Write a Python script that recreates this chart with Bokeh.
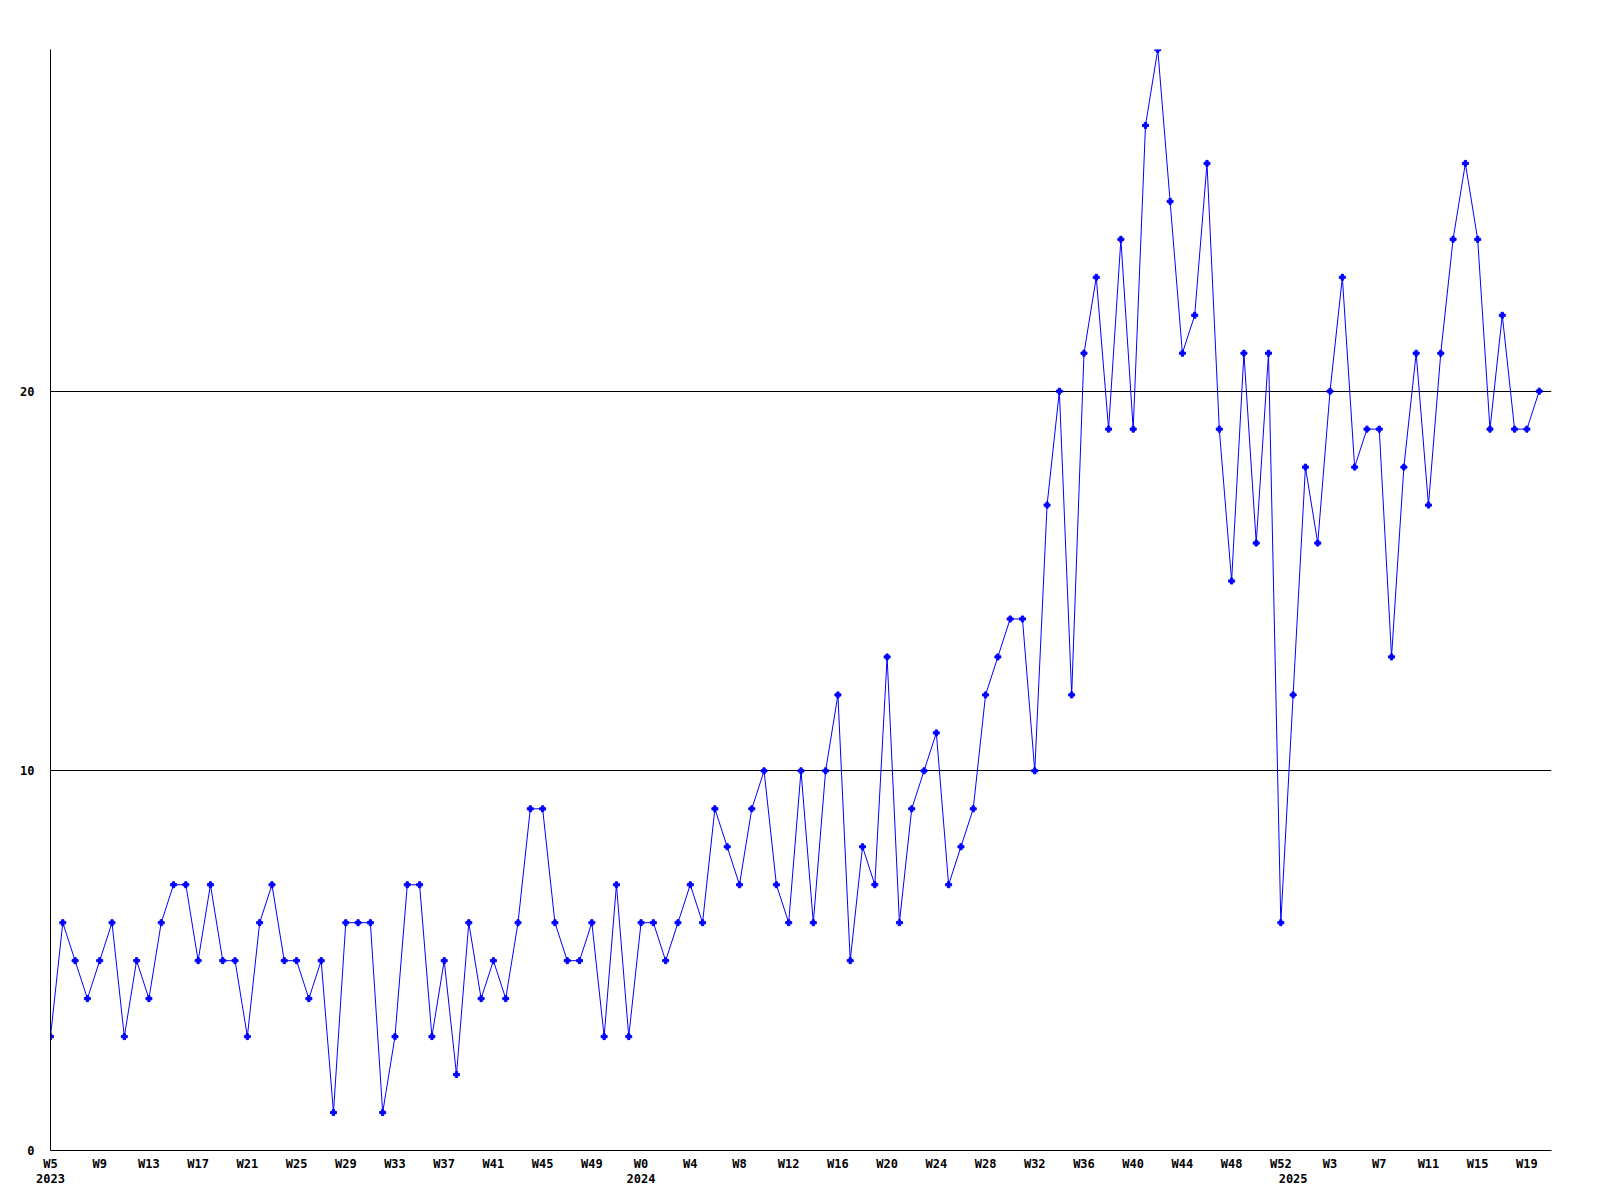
from bokeh.plotting import figure
from bokeh.models import Range1d, FixedTicker, ColumnDataSource, LinearAxis
from bokeh.embed import file_html
from bokeh.resources import INLINE

# --- data -------------------------------------------------------------
weeks_2023 = ["W%d" % w for w in range(5, 53)]
weeks_2024 = ["W%d" % w for w in range(0, 53)]
weeks_2025 = ["W%d" % w for w in range(0, 21)]

values_2023 = [3, 6, 5, 4, 5, 6, 3, 5, 4, 6, 7, 7, 5, 7, 5, 5, 3, 6, 7, 5,
               5, 4, 5, 1, 6, 6, 6, 1, 3, 7, 7, 3, 5, 2, 6, 4, 5, 4, 6, 9,
               9, 6, 5, 5, 6, 3, 7, 3]
values_2024 = [6, 6, 5, 6, 7, 6, 9, 8, 7, 9, 10, 7, 6, 10, 6, 10, 12, 5, 8, 7,
               13, 6, 9, 10, 11, 7, 8, 9, 12, 13, 14, 14, 10, 17, 20, 12, 21, 23, 19, 24,
               19, 27, 29, 25, 21, 22, 26, 19, 15, 21, 16, 21, 6]
values_2025 = [12, 18, 16, 20, 23, 18, 19, 19, 13, 18, 21, 17, 21, 24, 26, 24, 19, 22, 19, 19,
               20]

years = ["2023", "2024", "2025"]
y_ticks = [0, 10, 20]
grid_values = [10, 20]
label_every = 4

# --- assemble ---------------------------------------------------------
weeks = weeks_2023 + weeks_2024 + weeks_2025
values = values_2023 + values_2024 + values_2025
idx = list(range(len(values)))
year_start = [0, len(weeks_2023), len(weeks_2023) + len(weeks_2024)]
tick_idx = idx[::label_every]

FONT = "DejaVu Sans Mono"

p = figure(
    width=1600, height=1200,
    frame_width=1501, frame_height=1101,
    min_border_left=50, min_border_right=49, min_border_top=49, min_border_bottom=50,
    x_range=Range1d(0, len(values)), y_range=Range1d(0, max(values)),
    output_backend="svg", toolbar_location=None,
    background_fill_color="white", border_fill_color="white",
)
p.outline_line_color = None


def style_axis(ax, standoff):
    ax.major_tick_line_color = None
    ax.minor_tick_line_color = None
    ax.major_tick_out = 0
    ax.major_tick_in = 0
    ax.minor_tick_out = 0
    ax.minor_tick_in = 0
    ax.major_label_standoff = standoff
    ax.major_label_text_font = FONT
    ax.major_label_text_font_style = "bold"
    ax.major_label_text_font_size = "12px"
    ax.major_label_text_color = "black"


# week axis
xa = p.xaxis[0]
xa.ticker = FixedTicker(ticks=tick_idx)
xa.major_label_overrides = {i: weeks[i] for i in tick_idx}
xa.axis_line_color = "black"
xa.axis_line_width = 1
style_axis(xa, 6)

# year axis (second row below)
ya2 = LinearAxis(ticker=FixedTicker(ticks=year_start),
                 major_label_overrides={i: y for i, y in zip(year_start, years)},
                 axis_line_color=None)
style_axis(ya2, 0)
p.add_layout(ya2, "below")

# value axis
ya = p.yaxis[0]
ya.ticker = FixedTicker(ticks=y_ticks)
ya.axis_line_color = "black"
ya.axis_line_width = 1
style_axis(ya, 16)

p.xgrid.grid_line_color = None
p.ygrid.ticker = FixedTicker(ticks=grid_values)
p.ygrid.grid_line_color = "black"
p.ygrid.grid_line_width = 1
p.ygrid.grid_line_alpha = 1.0

src = ColumnDataSource(dict(x=idx, y=values))
p.line("x", "y", source=src, line_color="#0000ff", line_width=1)
p.scatter("x", "y", source=src, marker="plus", size=6, fill_color="#0000ff",
          line_color="#0000ff")

open("out.html", "w").write(file_html(p, INLINE))
